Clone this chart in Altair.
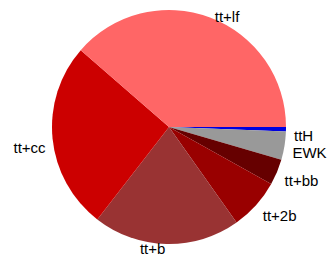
import math
import altair as alt
import pandas as pd

# Slices, clockwise from 3 o'clock (percent of total)
labels = ["ttH", "EWK", "tt+bb", "tt+2b", "tt+b", "tt+cc", "tt+lf"]
values = [0.6, 3.9, 3.6, 7.1, 20.3, 25.9, 38.6]
colors = ["#0000dd", "#999999", "#660000", "#990000", "#993333", "#cc0000", "#ff6666"]

total = sum(values)
df = pd.DataFrame({"label": labels, "value": values, "idx": list(range(len(labels)))})

theta_range = [math.pi / 2, math.pi / 2 + 2 * math.pi]
cx, cy = 161, 119
R = 117
RL = 122

base = alt.Chart(df)

pie = base.mark_arc(strokeWidth=0).encode(
    theta=alt.Theta("value:Q", stack=True, scale=alt.Scale(range=theta_range)),
    order=alt.Order("idx:Q"),
    color=alt.Color("label:N", scale=alt.Scale(domain=labels, range=colors), legend=None),
    radius=alt.value(R),
    x=alt.value(cx),
    y=alt.value(cy),
)

lab = base.transform_window(
    cum="sum(value)", sort=[alt.SortField("idx")], frame=[None, 0]
).transform_calculate(
    mid="datum.cum - datum.value / 2",
).transform_calculate(
    ang=f"2 * PI * datum.mid / {total}",
).transform_calculate(
    side="sin(datum.ang) < -0.9 ? 'top' : sin(datum.ang) > 0.9 ? 'bottom' : cos(datum.ang) > 0 ? 'right' : 'left'"
)

def text_layer(side, align, dx, dy):
    return lab.transform_filter(alt.datum.side == side).mark_text(
        align=align, baseline="middle", font="Liberation Sans", fontSize=15,
        color="#000000", dx=dx, dy=dy,
    ).encode(
        theta=alt.Theta("mid:Q", stack=None, scale=alt.Scale(domain=[0, total], range=theta_range)),
        radius=alt.value(RL),
        x=alt.value(cx),
        y=alt.value(cy),
        text="label:N",
    )

chart = alt.layer(
    pie,
    text_layer("right", "left", 3, 7),
    text_layer("top", "left", 3, 4),
    text_layer("left", "right", -2, 9),
    text_layer("bottom", "right", -1, 0),
).resolve_scale(
    theta="independent"
).properties(
    width=319, height=249, padding=0, autosize=alt.AutoSizeParams(type="none")
).configure_view(strokeWidth=0)

chart.save("out.html", embed_options={"renderer": "svg", "actions": False})
